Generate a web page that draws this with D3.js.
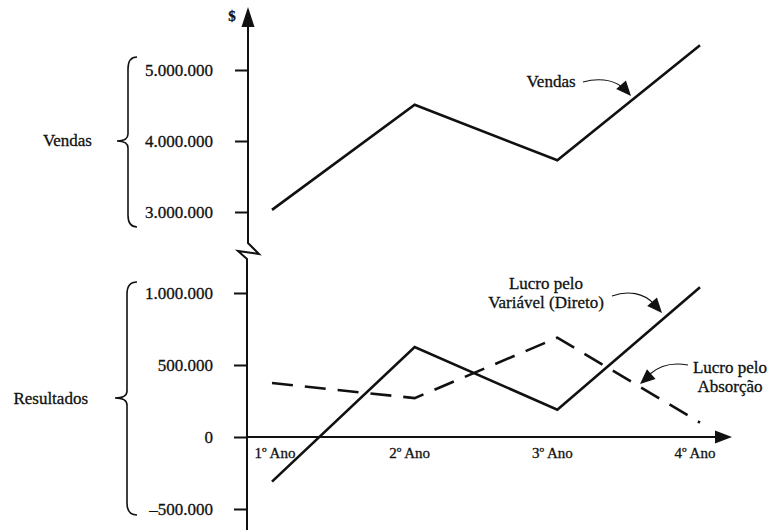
<!DOCTYPE html>
<html><head><meta charset="utf-8">
<script src="https://cdn.jsdelivr.net/npm/d3@7"></script>
<style>
html,body{margin:0;padding:0;background:#fff;}
svg{display:block;}
text{font-family:"Liberation Serif","Times New Roman",serif;fill:#111;stroke:#111;stroke-width:0.3px;}
</style></head>
<body>
<svg id="chart" width="771" height="530"></svg>
<script>
// ---- data ----
const categories = ["1º Ano", "2º Ano", "3º Ano", "4º Ano"];
const vendas = [3030000, 4510000, 3730000, 5350000];
const lucroVariavel = [-310000, 625000, 190000, 1040000];
const lucroAbsorcao = [375000, 270000, 690000, 100000];
const topTicks = [3000000, 4000000, 5000000];
const topTickLabels = ["3.000.000", "4.000.000", "5.000.000"];
const bottomTicks = [-500000, 0, 500000, 1000000];
const bottomTickLabels = ["–500.000", "0", "500.000", "1.000.000"];

const svg = d3.select("#chart");
const ink = "#111";
const FONT = "Liberation Serif";
const FS = 17;

const x = d3.scalePoint().domain(categories).range([272, 700]);
const yTop = d3.scaleLinear().domain([3000000, 5000000]).range([212, 70]);
const yBot = d3.scaleLinear().domain([-500000, 1000000]).range([509, 293]);

// ---- axes ----
const axisX = 248, axisXb = 247;
svg.append("path")
  .attr("d", `M${axisX},24 L${axisX},243 L259,254 L238,251 L${axisXb},259 L${axisXb},530`)
  .attr("fill", "none").attr("stroke", ink).attr("stroke-width", 2).attr("stroke-linejoin", "miter");
svg.append("path").attr("d", `M${axisX},7 L241.5,27 L254.5,27 Z`).attr("fill", ink);
svg.append("text").attr("x", 232).attr("y", 21).attr("text-anchor", "middle")
  .attr("font-size", 15).attr("font-weight", "bold").text("$");

const y0 = yBot(0);
svg.append("line").attr("x1", axisXb).attr("x2", 718).attr("y1", y0).attr("y2", y0)
  .attr("stroke", ink).attr("stroke-width", 2);
svg.append("path").attr("d", `M732,${y0} L715,${y0 - 6.5} L715,${y0 + 6.5} Z`).attr("fill", ink);

const gT = svg.append("g").attr("transform", `translate(${axisX},0)`)
  .call(d3.axisLeft(yTop).tickValues(topTicks).tickSize(13).tickPadding(22)
    .tickFormat((d, i) => topTickLabels[i]));
const gB = svg.append("g").attr("transform", `translate(${axisXb},0)`)
  .call(d3.axisLeft(yBot).tickValues(bottomTicks).tickSize(13).tickPadding(21)
    .tickFormat((d, i) => bottomTickLabels[i]));
[gT, gB].forEach(g => {
  g.select(".domain").remove();
  g.selectAll(".tick line").attr("stroke", ink).attr("stroke-width", 2);
  g.selectAll(".tick text").attr("font-family", FONT).attr("font-size", FS).attr("fill", ink);
});

svg.append("g").selectAll("text").data(categories).join("text")
  .attr("x", (d, i) => x(d) + (i === 0 ? 3 : -5))
  .attr("y", y0 + 21)
  .attr("text-anchor", "middle")
  .attr("font-size", 15)
  .text(d => d);

// ---- braces ----
function brace(top, tip, bottom, tipX, bodyX, endX) {
  return `M${endX},${top} Q${bodyX},${top} ${bodyX},${top + 12} L${bodyX},${tip - 7} Q${bodyX},${tip} ${tipX},${tip}` +
         ` Q${bodyX},${tip} ${bodyX},${tip + 7} L${bodyX},${bottom - 12} Q${bodyX},${bottom} ${endX},${bottom}`;
}
svg.append("path").attr("d", brace(57, yTop(4000000), 227, 117, 128, 137))
  .attr("fill", "none").attr("stroke", ink).attr("stroke-width", 1.6);
svg.append("path").attr("d", brace(282, 398, 515, 115, 127, 137))
  .attr("fill", "none").attr("stroke", ink).attr("stroke-width", 1.6);
svg.append("text").attr("x", 92).attr("y", yTop(4000000) + 5).attr("text-anchor", "end")
  .attr("font-size", FS).text("Vendas");
svg.append("text").attr("x", 88).attr("y", 404).attr("text-anchor", "end")
  .attr("font-size", FS).text("Resultados");

// ---- series lines ----
const lineTop = d3.line().x((d, i) => x(categories[i])).y(d => yTop(d));
const lineBot = d3.line().x((d, i) => x(categories[i])).y(d => yBot(d));
svg.append("path").datum(vendas).attr("d", lineTop)
  .attr("fill", "none").attr("stroke", ink).attr("stroke-width", 2.6).attr("stroke-linejoin", "miter");
svg.append("path").datum(lucroVariavel).attr("d", lineBot)
  .attr("fill", "none").attr("stroke", ink).attr("stroke-width", 2.6).attr("stroke-linejoin", "miter");
svg.append("path").datum(lucroAbsorcao).attr("d", lineBot)
  .attr("fill", "none").attr("stroke", ink).attr("stroke-width", 2.6)
  .attr("stroke-dasharray", "21,12");

// ---- annotations ----
function arrowHead(tipX, tipY, angle) {
  const L = 15, W = 6.5;
  const bx = tipX - L * Math.cos(angle), by = tipY - L * Math.sin(angle);
  const px = -Math.sin(angle) * W, py = Math.cos(angle) * W;
  return `M${tipX},${tipY} L${bx + px},${by + py} L${bx - px},${by - py} Z`;
}
function annotate(curve, tip, angle) {
  svg.append("path").attr("d", curve).attr("fill", "none").attr("stroke", ink).attr("stroke-width", 1.1);
  svg.append("path").attr("d", arrowHead(tip[0], tip[1], angle)).attr("fill", ink);
}
svg.append("text").attr("x", 551).attr("y", 87).attr("text-anchor", "middle").attr("font-size", FS).text("Vendas");
annotate("M583,82 C597,78 612,79 622,87", [631, 96], Math.PI * 0.27);
svg.append("text").attr("x", 546).attr("y", 289).attr("text-anchor", "middle").attr("font-size", FS).text("Lucro pelo");
svg.append("text").attr("x", 546).attr("y", 308).attr("text-anchor", "middle").attr("font-size", FS).text("Variável (Direto)");
annotate("M612,296 C628,290 644,293 654,304", [662, 313], Math.PI * 0.27);
svg.append("text").attr("x", 730).attr("y", 373).attr("text-anchor", "middle").attr("font-size", FS).text("Lucro pelo");
svg.append("text").attr("x", 730).attr("y", 392).attr("text-anchor", "middle").attr("font-size", FS).text("Absorção");
annotate("M688,365 C672,362 659,366 650,374", [640, 384], Math.PI * 0.77);
</script>
</body></html>
